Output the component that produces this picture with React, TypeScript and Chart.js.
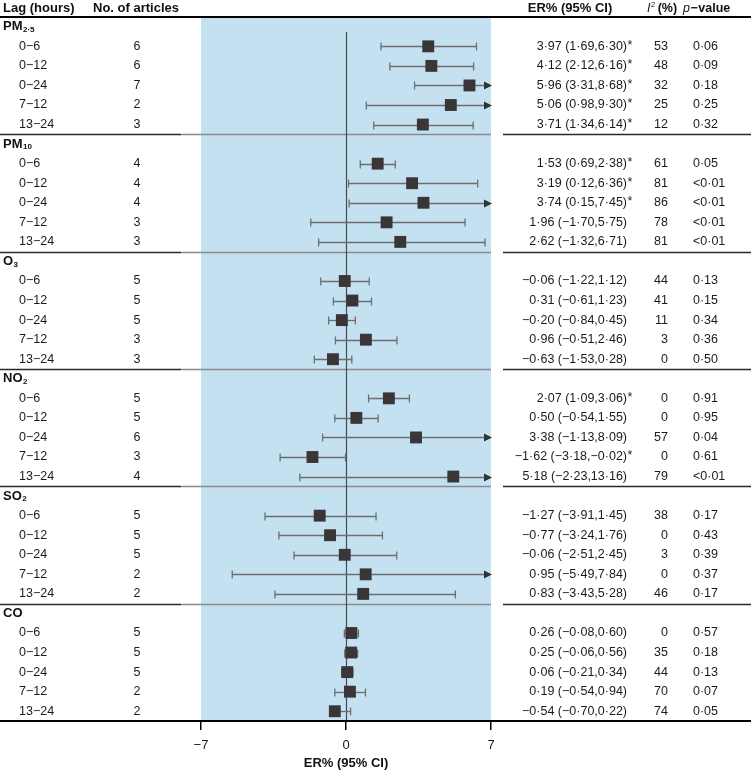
import React, { useEffect, useRef } from 'react';
import { Chart, registerables } from 'chart.js';

Chart.register(...registerables);

// ---------- data ----------
const pollutants = ['PM', 'PM', 'O', 'NO', 'SO', 'CO'];
const pollutantSubs = ['2·5', '10', '3', '2', '2', ''];
const lags = ['0−6', '0−12', '0−24', '7−12', '13−24'];

const articles = [
  6, 6, 7, 2, 3,
  4, 4, 4, 3, 3,
  5, 5, 5, 3, 3,
  5, 5, 6, 3, 4,
  5, 5, 5, 2, 2,
  5, 5, 5, 2, 2,
];

const estimates = [
  3.97, 4.12, 5.96, 5.06, 3.71,
  1.53, 3.19, 3.74, 1.96, 2.62,
  -0.06, 0.31, -0.20, 0.96, -0.63,
  2.07, 0.50, 3.38, -1.62, 5.18,
  -1.27, -0.77, -0.06, 0.95, 0.83,
  0.26, 0.25, 0.06, 0.19, -0.54,
];

const lowers = [
  1.69, 2.12, 3.31, 0.98, 1.34,
  0.69, 0.12, 0.15, -1.70, -1.32,
  -1.22, -0.61, -0.84, -0.51, -1.53,
  1.09, -0.54, -1.13, -3.18, -2.23,
  -3.91, -3.24, -2.51, -5.49, -3.43,
  -0.08, -0.06, -0.21, -0.54, -0.70,
];

const uppers = [
  6.30, 6.16, 8.68, 9.30, 6.14,
  2.38, 6.36, 7.45, 5.75, 6.71,
  1.12, 1.23, 0.45, 2.46, 0.28,
  3.06, 1.55, 8.09, -0.02, 13.16,
  1.45, 1.76, 2.45, 7.84, 5.28,
  0.60, 0.56, 0.34, 0.94, 0.22,
];

const significant = [
  1, 1, 1, 1, 1,
  1, 1, 1, 0, 0,
  0, 0, 0, 0, 0,
  1, 0, 0, 1, 0,
  0, 0, 0, 0, 0,
  0, 0, 0, 0, 0,
];

const i2Values = [
  53, 48, 32, 25, 12,
  61, 81, 86, 78, 81,
  44, 41, 11, 3, 0,
  0, 0, 57, 0, 79,
  38, 0, 3, 0, 46,
  0, 35, 44, 70, 74,
];

const pValues = [
  '0.06', '0.09', '0.18', '0.25', '0.32',
  '0.05', '<0.01', '<0.01', '<0.01', '<0.01',
  '0.13', '0.15', '0.34', '0.36', '0.50',
  '0.91', '0.95', '0.04', '0.61', '<0.01',
  '0.17', '0.43', '0.39', '0.37', '0.17',
  '0.57', '0.18', '0.13', '0.07', '0.05',
];

const xTicks = [-7, 0, 7];
const xMin = -7;
const xMax = 7;

// ---------- helpers ----------
const FONT = '"Liberation Sans", Arial, Helvetica, sans-serif';
const fmt = (v: number) => {
  const s = Math.abs(v).toFixed(2).replace('.', '·');
  return v < 0 ? '−' + s : s;
};
const rowsPerGroup = lags.length + 1;
const totalRows = pollutants.length * rowsPerGroup;
const rowIndex = (i: number) => Math.floor(i / lags.length) * rowsPerGroup + 1 + (i % lags.length);

const forestPlugin = {
  id: 'forest',
  beforeDatasetsDraw(chart: any) {
    const { ctx, chartArea, scales } = chart;
    const x = scales.x;
    const y = scales.y;
    ctx.save();
    // band
    const bl = x.getPixelForValue(xMin);
    const br = x.getPixelForValue(xMax);
    ctx.fillStyle = '#c3e1f1';
    ctx.fillRect(bl, chartArea.top, br - bl, chartArea.bottom - chartArea.top);

    // separators
    for (let g = 1; g < pollutants.length; g++) {
      const yy = Math.round(y.getPixelForValue(g * rowsPerGroup)) + 0.5;
      ctx.lineWidth = 1.5;
      ctx.strokeStyle = '#2a2a2a';
      ctx.beginPath();
      ctx.moveTo(0, yy);
      ctx.lineTo(bl - 20, yy);
      ctx.stroke();
      ctx.strokeStyle = '#8a8a8a';
      ctx.beginPath();
      ctx.moveTo(bl - 20, yy);
      ctx.lineTo(br, yy);
      ctx.stroke();
      ctx.strokeStyle = '#2a2a2a';
      ctx.beginPath();
      ctx.moveTo(br + 12, yy);
      ctx.lineTo(chart.width, yy);
      ctx.stroke();
    }

    // zero line
    const zx = Math.round(x.getPixelForValue(0)) + 0.5;
    ctx.strokeStyle = '#4a4a4a';
    ctx.lineWidth = 1.2;
    ctx.beginPath();
    ctx.moveTo(zx, y.getPixelForValue(0.77));
    ctx.lineTo(zx, chartArea.bottom);
    ctx.stroke();

    // whiskers
    ctx.strokeStyle = '#6e6e6e';
    ctx.fillStyle = '#333';
    ctx.lineWidth = 1.3;
    estimates.forEach((_, i) => {
      const yy = Math.round(y.getPixelForValue(rowIndex(i) + 0.5)) + 0.5;
      const lo = Math.max(lowers[i], xMin);
      const hiClipped = uppers[i] > xMax;
      const hi = Math.min(uppers[i], xMax);
      const lx = x.getPixelForValue(lo);
      const hx = x.getPixelForValue(hi);
      ctx.beginPath();
      ctx.moveTo(lx, yy);
      ctx.lineTo(hiClipped ? hx - 6 : hx, yy);
      ctx.stroke();
      ctx.beginPath();
      ctx.moveTo(lx, yy - 4);
      ctx.lineTo(lx, yy + 4);
      ctx.stroke();
      if (hiClipped) {
        ctx.beginPath();
        ctx.moveTo(hx + 1, yy);
        ctx.lineTo(hx - 7, yy - 4);
        ctx.lineTo(hx - 7, yy + 4);
        ctx.closePath();
        ctx.fill();
      } else {
        ctx.beginPath();
        ctx.moveTo(hx, yy - 4);
        ctx.lineTo(hx, yy + 4);
        ctx.stroke();
      }
    });
    ctx.restore();
  },
  afterDraw(chart: any) {
    const { ctx, chartArea, scales } = chart;
    const y = scales.y;
    const W = chart.width;
    ctx.save();
    ctx.textBaseline = 'middle';

    // header
    const hy = 8.5;
    ctx.fillStyle = '#111';
    ctx.font = `bold 13px ${FONT}`;
    ctx.textAlign = 'left';
    ctx.fillText('Lag (hours)', 3, hy);
    ctx.fillText('No. of articles', 93, hy);
    ctx.textAlign = 'center';
    ctx.fillText('ER% (95% CI)', 570, hy);
    ctx.textAlign = 'left';
    // I² (%)
    let hx = 647;
    ctx.font = `italic 12.5px ${FONT}`;
    ctx.fillText('I', hx, hy);
    hx += ctx.measureText('I').width + 0.5;
    ctx.font = `7.5px ${FONT}`;
    ctx.fillText('2', hx, hy - 4);
    hx += ctx.measureText('2').width + 2.5;
    ctx.font = `bold 12.5px ${FONT}`;
    ctx.fillText('(%)', hx, hy);
    // p-value
    hx = 683;
    ctx.font = `italic 12.5px ${FONT}`;
    ctx.fillText('p', hx, hy);
    hx += ctx.measureText('p').width + 0.5;
    ctx.font = `bold 12.5px ${FONT}`;
    ctx.fillText('−', hx, hy);
    hx += ctx.measureText('−').width + 0.5;
    ctx.fillText('value', hx, hy);

    // header line and axis line
    ctx.strokeStyle = '#000';
    ctx.lineWidth = 2;
    ctx.beginPath();
    ctx.moveTo(0, chartArea.top);
    ctx.lineTo(W, chartArea.top);
    ctx.stroke();
    ctx.beginPath();
    ctx.moveTo(0, chartArea.bottom);
    ctx.lineTo(W, chartArea.bottom);
    ctx.stroke();

    // group labels
    pollutants.forEach((p, g) => {
      const yy = y.getPixelForValue(g * rowsPerGroup + 0.5);
      ctx.fillStyle = '#111';
      ctx.font = `bold 13px ${FONT}`;
      ctx.textAlign = 'left';
      ctx.fillText(p, 3, yy);
      const w = ctx.measureText(p).width;
      if (pollutantSubs[g]) {
        ctx.font = `bold 8px ${FONT}`;
        ctx.fillText(pollutantSubs[g], 3 + w + 0.5, yy + 3);
      }
    });

    // rows
    ctx.fillStyle = '#1a1a1a';
    estimates.forEach((e, i) => {
      const yy = y.getPixelForValue(rowIndex(i) + 0.5);
      ctx.font = `12.5px ${FONT}`;
      ctx.textAlign = 'left';
      ctx.fillText(lags[i % lags.length], 19, yy);
      ctx.textAlign = 'center';
      ctx.fillText(String(articles[i]), 137, yy);
      ctx.textAlign = 'right';
      ctx.fillText(`${fmt(e)} (${fmt(lowers[i])},${fmt(uppers[i])})`, 627, yy);
      if (significant[i]) {
        ctx.textAlign = 'left';
        ctx.fillText('*', 627.5, yy - 1);
      }
      ctx.textAlign = 'right';
      ctx.fillText(String(i2Values[i]), 668, yy);
      ctx.textAlign = 'left';
      ctx.fillText(pValues[i].replace('.', '·'), 693, yy);
    });
    ctx.restore();
  },
};

export default function App() {
  const ref = useRef<HTMLCanvasElement | null>(null);
  useEffect(() => {
    document.body.style.margin = '0';
    const canvas = ref.current;
    if (!canvas) return;
    const chart = new Chart(canvas, {
      type: 'scatter',
      data: {
        datasets: [
          {
            data: estimates.map((e, i) => ({ x: e, y: rowIndex(i) + 0.5 })),
            pointStyle: 'rect',
            pointRadius: 8.4,
            pointHoverRadius: 8.4,
            backgroundColor: '#3a3536',
            borderColor: '#3a3536',
            borderWidth: 0,
          },
        ],
      },
      options: {
        responsive: false,
        animation: false,
        devicePixelRatio: 1,
        layout: { padding: { left: 201, right: 260, top: 17, bottom: 0 } },
        plugins: {
          legend: { display: false },
          tooltip: { enabled: false },
        },
        scales: {
          x: {
            type: 'linear',
            min: xMin,
            max: xMax,
            afterBuildTicks: (axis: any) => {
              axis.ticks = xTicks.map((v) => ({ value: v }));
            },
            afterFit: (scale: any) => {
              scale.height = 51;
            },
            grid: {
              display: true,
              drawOnChartArea: false,
              drawTicks: true,
              tickLength: 9,
              color: '#000',
              lineWidth: 1.5,
            },
            border: { display: false },
            ticks: {
              padding: 8,
              color: '#1a1a1a',
              font: { family: FONT, size: 13 },
              callback: (v: any) => (Number(v) < 0 ? '−' + Math.abs(Number(v)) : String(v)),
            },
            title: {
              display: true,
              text: 'ER% (95% CI)',
              color: '#111',
              font: { family: FONT, size: 13, weight: 'bold' },
              padding: { top: 2, bottom: 1 },
            },
          },
          y: {
            type: 'linear',
            display: false,
            min: 0,
            max: totalRows,
            reverse: true,
          },
        },
      },
      plugins: [forestPlugin],
    });
    return () => chart.destroy();
  }, []);
  return (
    <div style={{ position: 'absolute', left: 0, top: 0, width: 751, height: 772 }}>
      <canvas ref={ref} width={751} height={772} />
    </div>
  );
}
